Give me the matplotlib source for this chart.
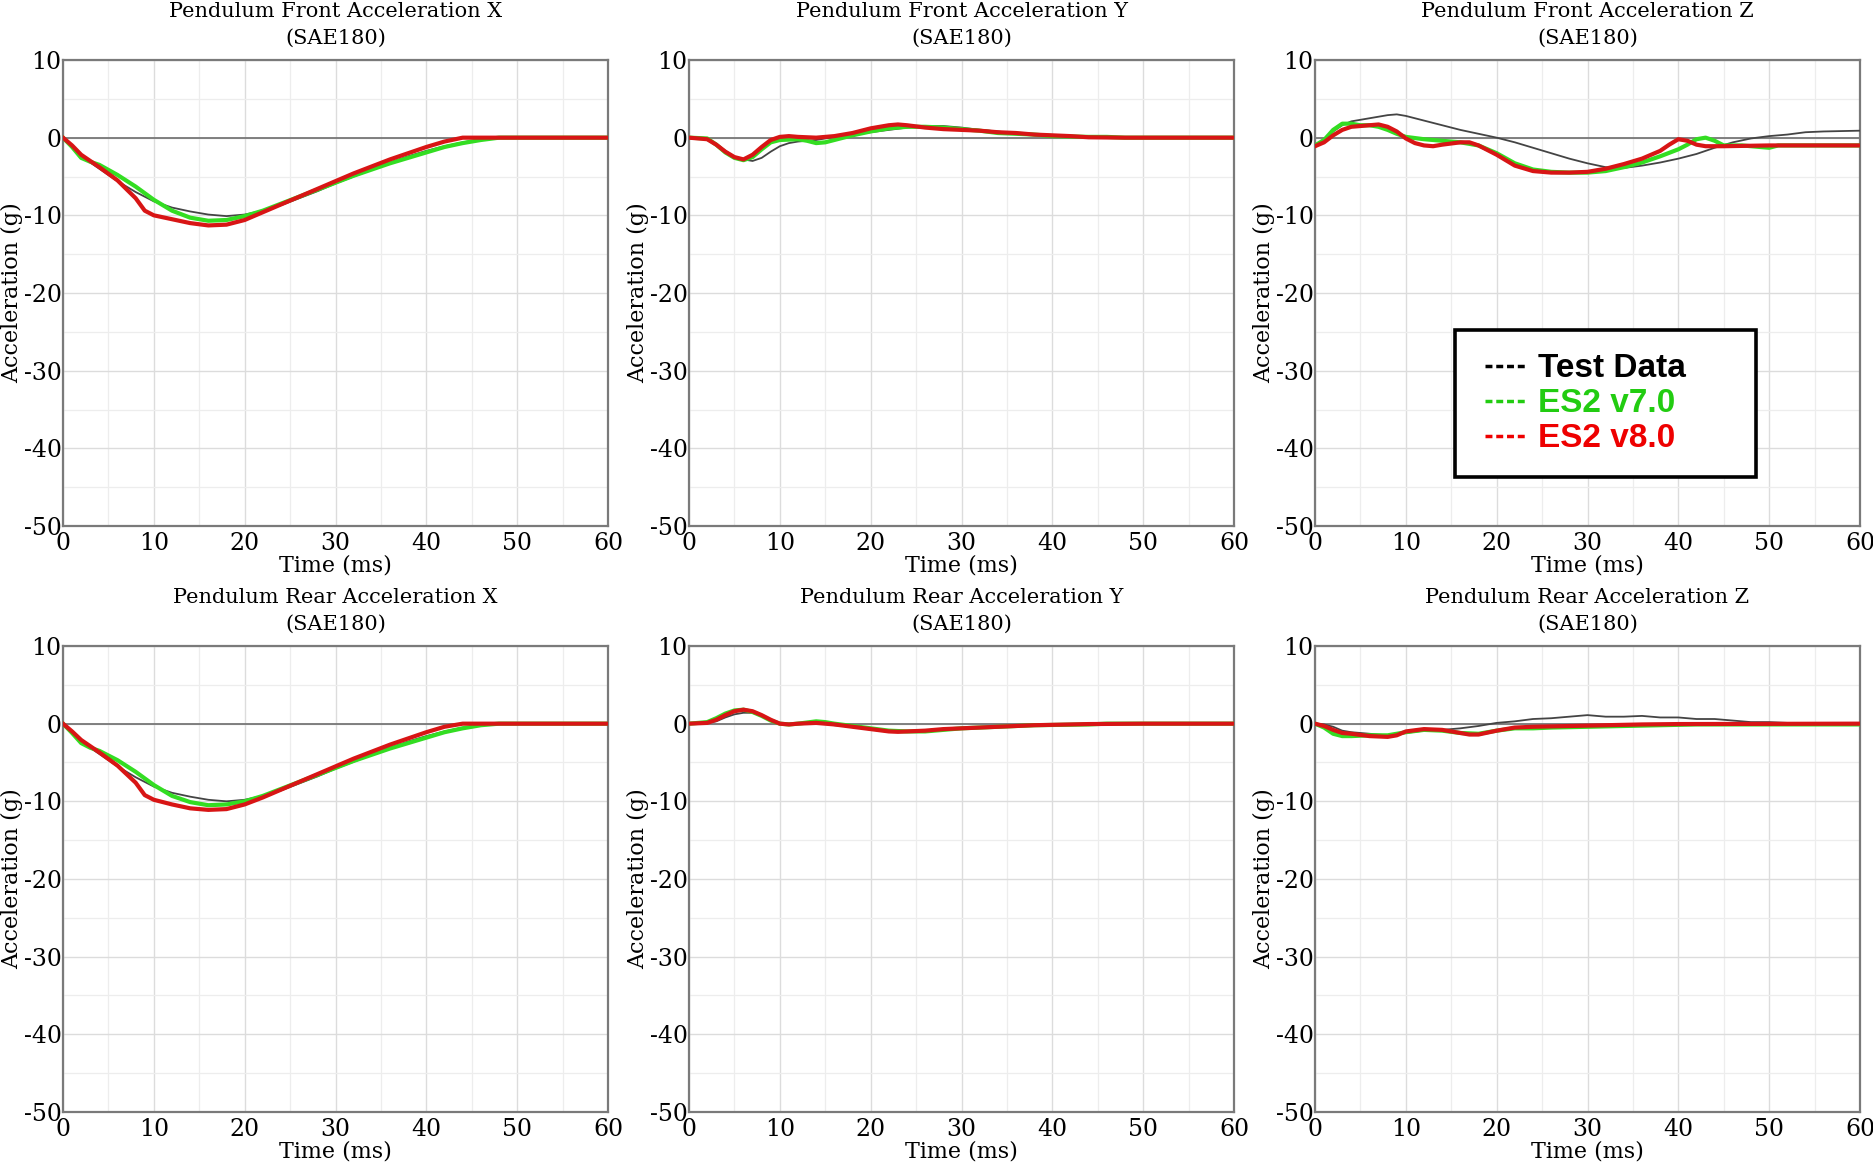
import matplotlib
matplotlib.use('Agg')
import matplotlib.pyplot as plt
from matplotlib.lines import Line2D
from matplotlib.patches import Rectangle
from matplotlib.ticker import MultipleLocator

plt.rcParams['font.family'] = 'DejaVu Serif'
plt.rcParams['axes.unicode_minus'] = False

# ---- data (time in ms, acceleration in g) ----
# Pendulum Front Acceleration X
fx_test_t = [0, 1, 2, 3, 4, 6, 8, 10, 12, 14, 16, 18, 20, 22, 24, 26, 28, 30, 32, 34, 36, 38, 40, 42, 44, 46, 48, 50, 60]
fx_test_a = [0, -1, -2.3, -3.2, -4, -5.6, -7, -8.2, -9, -9.5, -9.9, -10.1, -9.9, -9.4, -8.7, -7.8, -6.9, -5.9, -5, -4.1, -3.2, -2.4, -1.7, -1.1, -0.6, -0.2, 0, 0, 0]
fx_v7_t = [0, 1, 2, 3, 4, 6, 8, 10, 12, 14, 16, 18, 20, 22, 24, 26, 28, 30, 32, 34, 36, 38, 40, 42, 44, 46, 48, 60]
fx_v7_a = [0, -1.2, -2.6, -3.1, -3.5, -4.8, -6.3, -8, -9.4, -10.3, -10.7, -10.6, -10.1, -9.4, -8.5, -7.6, -6.7, -5.8, -4.9, -4.1, -3.3, -2.6, -1.9, -1.2, -0.7, -0.3, 0, 0]
fx_v8_t = [0, 1, 2, 3, 4, 6, 8, 9, 10, 12, 14, 16, 18, 20, 22, 24, 26, 28, 30, 32, 34, 36, 38, 40, 42, 44, 46, 60]
fx_v8_a = [0, -1, -2.2, -3, -3.8, -5.5, -7.8, -9.4, -10, -10.5, -11, -11.3, -11.2, -10.6, -9.6, -8.6, -7.6, -6.6, -5.6, -4.6, -3.7, -2.8, -2, -1.2, -0.5, 0, 0, 0]

# Pendulum Front Acceleration Y
fy_test_t = [0, 2, 3, 4, 5, 6, 7, 8, 9, 10, 11, 12, 14, 16, 18, 20, 22, 24, 26, 28, 30, 32, 34, 36, 38, 40, 44, 48, 60]
fy_test_a = [0, -0.1, -0.8, -1.7, -2.5, -2.8, -3.0, -2.6, -1.8, -1.1, -0.7, -0.5, -0.3, 0.1, 0.4, 0.7, 1.0, 1.3, 1.5, 1.5, 1.3, 1.0, 0.8, 0.5, 0.3, 0.2, 0.1, 0, 0]
fy_v7_t = [0, 2, 3, 4, 5, 6, 7, 8, 9, 10, 12, 13, 14, 15, 16, 18, 20, 22, 24, 26, 28, 30, 32, 34, 36, 38, 40, 44, 46, 48, 60]
fy_v7_a = [0, -0.1, -0.9, -1.9, -2.6, -2.9, -2.5, -1.5, -0.6, -0.3, -0.2, -0.4, -0.7, -0.6, -0.3, 0.3, 0.8, 1.2, 1.4, 1.4, 1.3, 1.1, 0.9, 0.6, 0.5, 0.4, 0.2, 0.1, 0.1, 0, 0]
fy_v8_t = [0, 2, 3, 4, 5, 6, 7, 8, 9, 10, 11, 12, 14, 16, 18, 20, 22, 23, 24, 26, 28, 30, 32, 34, 36, 38, 40, 42, 44, 48, 60]
fy_v8_a = [0, -0.2, -0.9, -1.8, -2.5, -2.8, -2.2, -1.2, -0.3, 0.1, 0.2, 0.1, 0, 0.2, 0.6, 1.2, 1.6, 1.7, 1.6, 1.3, 1.1, 1.0, 0.9, 0.7, 0.6, 0.4, 0.3, 0.2, 0.05, 0, 0]

# Pendulum Front Acceleration Z
fz_test_t = [0, 1, 2, 3, 4, 6, 8, 9, 10, 12, 14, 16, 18, 20, 22, 24, 26, 28, 30, 32, 34, 36, 38, 40, 42, 44, 46, 48, 50, 52, 54, 56, 58, 60]
fz_test_a = [-1.0, -0.2, 0.8, 1.6, 2.1, 2.5, 2.9, 3.0, 2.8, 2.2, 1.6, 1.0, 0.5, 0, -0.6, -1.3, -2.0, -2.7, -3.3, -3.8, -3.9, -3.6, -3.2, -2.7, -2.1, -1.3, -0.6, -0.1, 0.2, 0.4, 0.7, 0.8, 0.85, 0.9]
fz_v7_t = [0, 1, 2, 3, 4, 5, 6, 7, 8, 9, 10, 12, 14, 16, 18, 20, 22, 24, 26, 28, 30, 32, 34, 36, 38, 40, 41, 42, 43, 44, 45, 47, 49, 50, 51, 55, 60]
fz_v7_a = [-1.0, -0.3, 1.0, 1.8, 1.8, 1.6, 1.6, 1.4, 1.0, 0.5, 0.1, -0.2, -0.4, -0.6, -1.0, -2.0, -3.3, -4.1, -4.4, -4.5, -4.5, -4.3, -3.8, -3.2, -2.4, -1.5, -0.9, -0.2, 0, -0.4, -1.0, -1.0, -1.2, -1.3, -1.0, -1.0, -1.0]
fz_v8_t = [0, 1, 2, 3, 4, 6, 7, 8, 9, 10, 11, 12, 13, 14, 16, 17, 18, 20, 22, 24, 26, 28, 30, 32, 34, 36, 38, 39, 40, 41, 42, 43, 45, 50, 60]
fz_v8_a = [-1.1, -0.6, 0.3, 1.0, 1.4, 1.6, 1.7, 1.4, 0.8, -0.1, -0.7, -1.0, -1.1, -0.9, -0.6, -0.6, -1.0, -2.2, -3.6, -4.3, -4.5, -4.5, -4.4, -4.0, -3.4, -2.7, -1.7, -0.9, -0.2, -0.4, -0.9, -1.1, -1.1, -1.0, -1.0]

# Pendulum Rear Acceleration X
rx_test_t = [0, 1, 2, 3, 4, 6, 8, 10, 12, 14, 16, 18, 20, 22, 24, 26, 28, 30, 32, 34, 36, 38, 40, 42, 44, 46, 48, 50, 60]
rx_test_a = [0, -1, -2.2, -3.1, -3.9, -5.5, -6.9, -8.1, -8.9, -9.4, -9.8, -10.0, -9.8, -9.3, -8.6, -7.7, -6.8, -5.8, -4.9, -4.0, -3.1, -2.3, -1.6, -1.0, -0.5, -0.2, 0, 0, 0]
rx_v7_t = [0, 1, 2, 3, 4, 6, 8, 10, 12, 14, 16, 18, 20, 22, 24, 26, 28, 30, 32, 34, 36, 38, 40, 42, 44, 46, 48, 60]
rx_v7_a = [0, -1.2, -2.5, -3.1, -3.5, -4.7, -6.2, -7.9, -9.3, -10.1, -10.5, -10.4, -10.0, -9.3, -8.4, -7.5, -6.6, -5.7, -4.8, -4.0, -3.2, -2.5, -1.8, -1.1, -0.6, -0.2, 0, 0]
rx_v8_t = [0, 1, 2, 3, 4, 6, 8, 9, 10, 12, 14, 16, 18, 20, 22, 24, 26, 28, 30, 32, 34, 36, 38, 40, 42, 44, 46, 60]
rx_v8_a = [0, -1, -2.1, -2.9, -3.7, -5.4, -7.6, -9.2, -9.8, -10.4, -10.9, -11.1, -11.0, -10.4, -9.5, -8.5, -7.5, -6.5, -5.5, -4.5, -3.6, -2.7, -1.9, -1.1, -0.4, 0, 0, 0]

# Pendulum Rear Acceleration Y
ry_test_t = [0, 2, 3, 4, 5, 6, 7, 8, 9, 10, 12, 14, 16, 18, 20, 22, 24, 26, 28, 30, 34, 38, 44, 50, 60]
ry_test_a = [0, 0.1, 0.3, 0.8, 1.2, 1.4, 1.4, 1.0, 0.4, 0, 0, 0.1, -0.2, -0.4, -0.6, -0.9, -1.0, -0.9, -0.8, -0.6, -0.4, -0.2, -0.05, 0, 0]
ry_v7_t = [0, 2, 3, 4, 5, 6, 7, 8, 9, 10, 11, 12, 14, 15, 16, 18, 20, 22, 24, 26, 28, 30, 34, 38, 44, 46, 60]
ry_v7_a = [0, 0.2, 0.7, 1.3, 1.7, 1.8, 1.5, 1.0, 0.4, 0, -0.1, 0, 0.3, 0.2, 0, -0.3, -0.6, -0.9, -1.0, -1.0, -0.8, -0.6, -0.4, -0.2, -0.1, 0, 0]
ry_v8_t = [0, 2, 3, 4, 5, 6, 7, 8, 9, 10, 11, 12, 14, 16, 18, 20, 22, 23, 24, 26, 28, 30, 34, 38, 44, 50, 60]
ry_v8_a = [0, 0.1, 0.5, 1.1, 1.6, 1.8, 1.6, 1.1, 0.5, 0, -0.1, 0, 0.1, -0.1, -0.4, -0.7, -1.0, -1.05, -1.0, -0.9, -0.7, -0.6, -0.4, -0.2, -0.05, 0, 0]

# Pendulum Rear Acceleration Z
rz_test_t = [0, 1, 2, 3, 4, 6, 8, 10, 12, 14, 16, 18, 20, 22, 24, 26, 28, 30, 32, 34, 36, 38, 40, 42, 44, 46, 48, 50, 52, 56, 60]
rz_test_a = [0, -0.1, -0.4, -0.9, -1.1, -1.3, -1.5, -1.2, -0.9, -0.8, -0.6, -0.3, 0.1, 0.3, 0.6, 0.7, 0.9, 1.1, 0.9, 0.9, 1.0, 0.8, 0.8, 0.6, 0.6, 0.4, 0.2, 0.2, 0.1, 0.1, 0.1]
rz_v7_t = [0, 1, 2, 3, 4, 6, 8, 10, 12, 14, 16, 18, 20, 22, 24, 26, 30, 34, 38, 42, 50, 60]
rz_v7_a = [0, -0.5, -1.3, -1.6, -1.6, -1.5, -1.5, -1.1, -0.8, -0.9, -1.2, -1.3, -0.9, -0.6, -0.6, -0.5, -0.4, -0.3, -0.2, -0.1, -0.1, -0.1]
rz_v8_t = [0, 1, 2, 3, 4, 6, 8, 9, 10, 12, 14, 16, 17, 18, 20, 22, 24, 28, 32, 36, 40, 60]
rz_v8_a = [0, -0.3, -0.8, -1.2, -1.3, -1.6, -1.7, -1.5, -1.0, -0.7, -0.8, -1.2, -1.4, -1.4, -0.9, -0.5, -0.4, -0.3, -0.2, -0.1, -0.05, 0]

titles = ['Pendulum Front Acceleration X', 'Pendulum Front Acceleration Y', 'Pendulum Front Acceleration Z',
          'Pendulum Rear Acceleration X', 'Pendulum Rear Acceleration Y', 'Pendulum Rear Acceleration Z']
panels = [
    [(fx_test_t, fx_test_a), (fx_v7_t, fx_v7_a), (fx_v8_t, fx_v8_a)],
    [(fy_test_t, fy_test_a), (fy_v7_t, fy_v7_a), (fy_v8_t, fy_v8_a)],
    [(fz_test_t, fz_test_a), (fz_v7_t, fz_v7_a), (fz_v8_t, fz_v8_a)],
    [(rx_test_t, rx_test_a), (rx_v7_t, rx_v7_a), (rx_v8_t, rx_v8_a)],
    [(ry_test_t, ry_test_a), (ry_v7_t, ry_v7_a), (ry_v8_t, ry_v8_a)],
    [(rz_test_t, rz_test_a), (rz_v7_t, rz_v7_a), (rz_v8_t, rz_v8_a)],
]
series_names = ['Test Data', 'ES2 v7.0', 'ES2 v8.0']
series_colors = ['#444444', '#33dd22', '#d81515']
series_widths = [1.3, 3.0, 3.0]
legend_colors = ['black', '#22cc11', '#ee0000']

W, H = 1873, 1165
fig = plt.figure(figsize=(W / 100, H / 100), dpi=100)

lefts = [63, 689, 1315]
tops = [60, 646]
aw, ah = 545, 466

axes = []
for r in range(2):
    for c in range(3):
        ax = fig.add_axes([lefts[c] / W, 1 - (tops[r] + ah) / H, aw / W, ah / H])
        axes.append(ax)

for i, ax in enumerate(axes):
    ax.set_xlim(0, 60)
    ax.set_ylim(-50, 10)
    ax.xaxis.set_major_locator(MultipleLocator(10))
    ax.yaxis.set_major_locator(MultipleLocator(10))
    ax.xaxis.set_minor_locator(MultipleLocator(5))
    ax.yaxis.set_minor_locator(MultipleLocator(5))
    ax.grid(which='major', color='#dcdcdc', lw=1.0)
    ax.grid(which='minor', color='#ededed', lw=0.9)
    ax.set_axisbelow(True)
    ax.axhline(0, color='#777777', lw=1.3, zorder=1)
    ax.tick_params(which='both', length=0, labelsize=17)
    ax.tick_params(axis='x', pad=4)
    ax.tick_params(axis='y', pad=1)
    for s in ax.spines.values():
        s.set_color('#7a7a7a')
        s.set_linewidth(1.6)
    for (t, a), col, lw in zip(panels[i], series_colors, series_widths):
        ax.plot(t, a, color=col, lw=lw, zorder=3)
    ax.set_title(titles[i] + '\n(SAE180)', fontsize=15, pad=12, linespacing=1.5)
    ax.set_xlabel('Time (ms)', fontsize=16, labelpad=0)
    ax.set_ylabel('Acceleration (g)', fontsize=16)
    ax.yaxis.set_label_coords(-40 / aw, 0.5)

# legend in the Front Z panel: frame drawn as its own box
lax = axes[2]
lax.add_patch(Rectangle((0.257, 0.105), 0.552, 0.316, transform=lax.transAxes,
                        facecolor='white', edgecolor='black', lw=2.6, zorder=5))
handles = [Line2D([], [], color=c, lw=2.5, ls=(0, (2.0, 1.1))) for c in legend_colors]
leg = lax.legend(handles, series_names, loc='center left', bbox_to_anchor=(0.312, 0.262),
                 prop={'family': 'Liberation Sans', 'weight': 'bold', 'size': 24},
                 labelcolor=legend_colors, frameon=False, handlelength=1.3,
                 handletextpad=0.3, labelspacing=0.12, borderpad=0, borderaxespad=0)
leg.set_zorder(6)

fig.savefig('out.png', dpi=100)
